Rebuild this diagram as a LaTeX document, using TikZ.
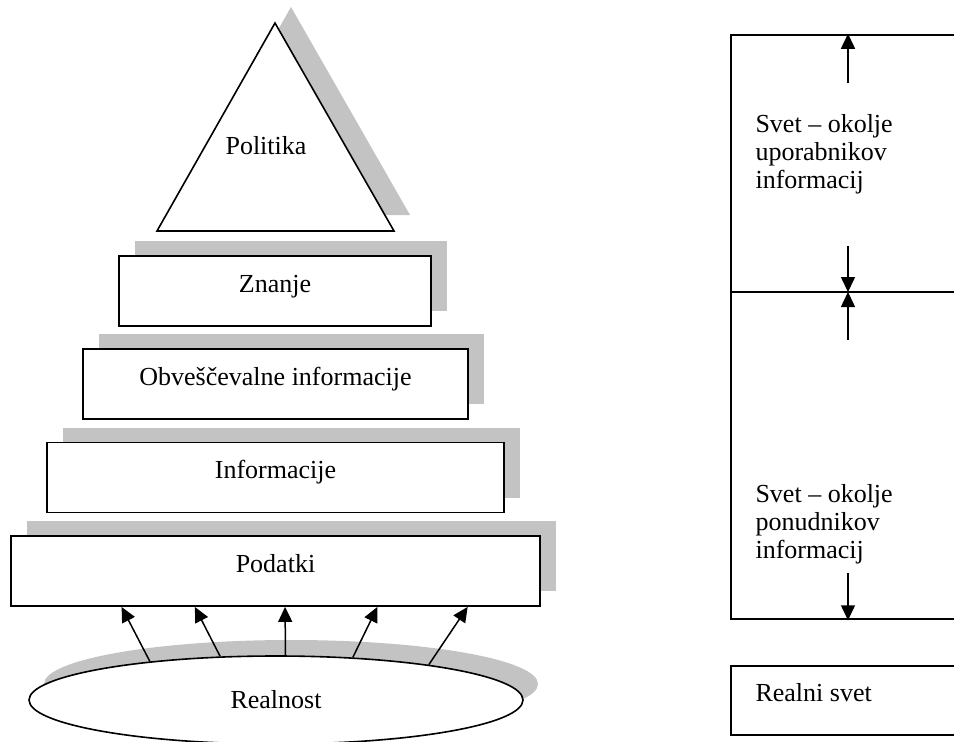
\documentclass[tikz,border=0pt]{standalone}
\usepackage{fontspec}
\setmainfont{Liberation Serif}
\usetikzlibrary{shapes.geometric,shadows,arrows.meta,calc}
\definecolor{shadowgray}{RGB}{195,195,195}
\tikzset{
    level/.style={draw, line width=1.8pt, fill=white, minimum height=70pt, inner sep=0pt,
        text height=18pt, text depth=16pt,
        drop shadow={shadow xshift=16pt, shadow yshift=15pt, fill=shadowgray, opacity=1}},
    up/.style={-{Triangle[length=15pt,width=14pt]}, line width=1.5pt},
}
\begin{document}
\begin{tikzpicture}[x=1pt, y=-1pt, font=\fontsize{26}{28}\selectfont]
            \useasboundingbox (0,0) rectangle (954,742);
            \draw [fill=shadowgray, draw=none] (291,7) -- (410,215) -- (173,215) -- cycle;
            \draw [fill=white, line width=1.6pt] (275,23) -- (394,231) -- (157,231) -- cycle;
            \node (politika) at (266,146) {Politika};
            \node [level, minimum width=312pt] (znanje) at (275,291) {Znanje};
            \node [level, minimum width=385pt] (obvescevalne) at (275.5,384) {Obveščevalne informacije};
            \node [level, minimum width=457pt] (informacije) at (275.5,477.5) {Informacije};
            \node [level, minimum width=529pt] (podatki) at (275.5,571) {Podatki};
            \node [ellipse, draw, line width=1.6pt, fill=white, minimum width=494pt, minimum height=88pt, inner sep=0pt,
                drop shadow={shadow xshift=15pt, shadow yshift=16pt, fill=shadowgray, opacity=1}] (realnost) at (276,700) {Realnost};
            \foreach \a/\f in {163/.21, 142.5/.348, 78.7/.518, 29.2/.692, 13.8/.862}
                \draw [up] (realnost.\a) -- ($(podatki.south west)!\f!(podatki.south east)$);
            % right column
            \node [draw, line width=2.5pt, minimum width=240pt, minimum height=584pt, inner sep=0pt] (svet) at (851,327) {};
            \coordinate (meja) at (731,292);
            \draw [line width=1.2pt] (meja) -- (954,292);
            \coordinate (t1) at (848,83);
            \coordinate (t2) at (848,246);
            \coordinate (t3) at (848,340);
            \coordinate (t4) at (848,573);
            \draw [up] (t1) -- (t1 |- svet.north);
            \draw [up] (t2) -- (t2 |- meja);
            \draw [up] (t3) -- (t3 |- meja);
            \draw [up] (t4) -- (t4 |- svet.south);
            \node [anchor=west, align=left] (uporabniki) at (752,154) {Svet – okolje\\uporabnikov\\informacij};
            \node [anchor=west, align=left] (ponudniki) at (752,524) {Svet – okolje\\ponudnikov\\informacij};
            \node [draw, line width=1.2pt, minimum width=240pt, minimum height=69pt, inner sep=0pt] (realnisvet) at (851,700.5) {};
            \node [anchor=west] (realnisvettext) at (752,693) {Realni svet};
        \end{tikzpicture}
\end{document}
